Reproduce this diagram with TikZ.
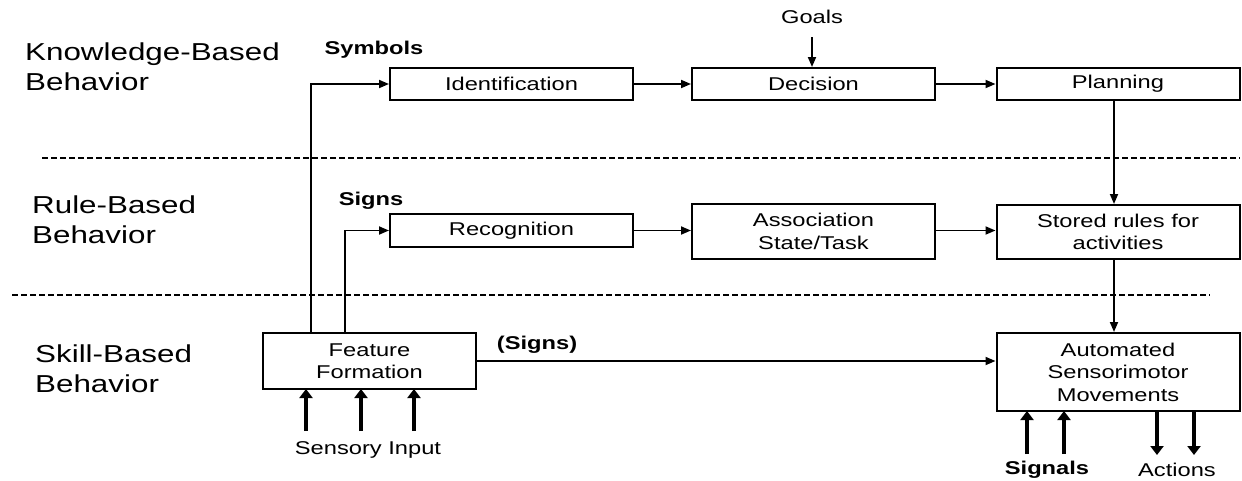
\documentclass[tikz,border=0pt]{standalone}
\usepackage{fontspec}
\setmainfont{Liberation Sans}[FakeStretch=1.28]
\usetikzlibrary{arrows.meta}
\newcommand{\boxfont}{\fontsize{18.5}{22.5}\selectfont}
\newcommand{\sidefont}{\fontsize{24.5}{30}\selectfont}
\tikzset{
  blk/.style={draw, line width=2pt, minimum width=243pt, minimum height=32pt, inner sep=0pt, align=center, font=\boxfont},
  lbl/.style={inner sep=0pt, font=\boxfont},
  side/.style={inner sep=0pt, align=left, anchor=west, font=\sidefont},
  arr/.style={line width=1.8pt, -{Triangle[length=10pt,width=8pt]}},
  plain/.style={line width=1.8pt},
  fat/.style={line width=4.5pt, -{Triangle[length=9pt,width=13pt]}},
  sep/.style={line width=1.6pt, dash pattern=on 6pt off 3pt},
}
\begin{document}
\begin{tikzpicture}[x=1pt,y=-1pt]
\useasboundingbox (0,0) rectangle (1242,480);
% side labels
\node[side] (kb) at (25,67) {Knowledge-Based\\Behavior};
\node[side] (rb) at (32,220) {Rule-Based\\Behavior};
\node[side] (sb) at (35,369) {Skill-Based\\Behavior};
% separators
\coordinate (s1a) at (42,158); \coordinate (s1b) at (1240,158);
\coordinate (s2a) at (12,295); \coordinate (s2b) at (1210,295);
\draw[sep] (s1a) -- (s1b);
\draw[sep] (s2a) -- (s2b);
% boxes
\node[blk] (ident) at (511.5,84) {Identification};
\node[blk] (decis) at (813.5,84) {Decision};
\node[blk] (plan) at (1118,84) {Planning};
\node[blk, minimum height=33pt] (recog) at (511.5,230.5) {Recognition};
\node[blk, minimum height=55pt] (assoc) at (813.5,231.5) {Association\\State/Task};
\node[blk, minimum height=54pt] (rules) at (1118,232) {Stored rules for\\activities};
\node[blk, minimum width=213pt, minimum height=56pt] (feat) at (369.5,361) {Feature\\Formation};
\node[blk, minimum height=78pt] (auto) at (1118,372) {Automated\\Sensorimotor\\Movements};
% labels
\node[lbl] (goals) at (812,17) {Goals};
\node[lbl, font=\boxfont\bfseries] (sym) at (374,50) {Symbols};
\node[lbl, font=\boxfont\bfseries] (signs) at (371,201) {Signs};
\node[lbl, font=\boxfont\bfseries] (psigns) at (537,345) {(Signs)};
\node[lbl] (sens) at (368,450) {Sensory Input};
\node[lbl, font=\boxfont\bfseries] (signals) at (1047,470) {Signals};
\node[lbl] (actions) at (1177,470) {Actions};
% connectors top row
\draw[arr] (ident) -- (decis);
\draw[arr] (decis) -- (plan);
\coordinate (g1) at (812,37);
\draw[arr] (g1) -- (g1 |- decis.north);
% vertical between layers
\draw[arr] (plan.south -| 1114,0) -- (rules.north -| 1114,0);
\draw[arr] (rules.south -| 1114,0) -- (auto.north -| 1114,0);
% rule row
\draw[arr] (recog.east) -- (assoc.west |- recog.east);
\draw[arr] (assoc.east |- recog.east) -- (rules.west |- recog.east);
% feature formation paths
\draw[arr] (feat.north -| 311,0) |- (ident.west);
\draw[arr] (feat.north -| 345,0) |- (recog.west);
\draw[arr] (feat.east) -- (auto.west |- feat.east);
% fat arrows
\foreach \xx in {306,361,414} { \draw[fat] (\xx,431) -- (\xx,389); }
\foreach \xx in {1027,1064} { \draw[fat] (\xx,454) -- (\xx,411); }
\foreach \xx in {1157,1194} { \draw[fat] (\xx,411) -- (\xx,455); }
\end{tikzpicture}
\end{document}
